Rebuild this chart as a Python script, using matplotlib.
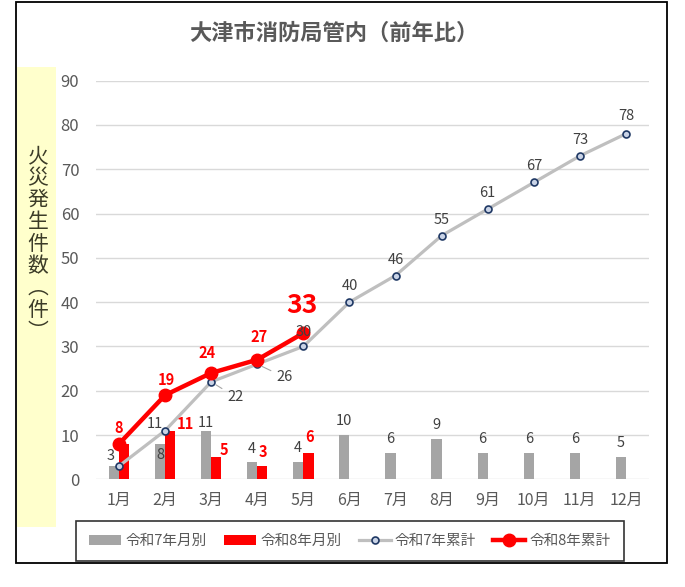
import matplotlib
matplotlib.use("Agg")
from matplotlib import pyplot as plt
from matplotlib.patches import Rectangle
import numpy as np

plt.rcParams['font.family'] = ['Noto Sans CJK JP', 'DejaVu Sans']

# data
months = ['1月', '2月', '3月', '4月', '5月', '6月', '7月', '8月', '9月', '10月', '11月', '12月']
r7_monthly = [3, 8, 11, 4, 4, 10, 6, 9, 6, 6, 6, 5]
r8_monthly = [8, 11, 5, 3, 6]
r7_cumul = [3, 11, 22, 26, 30, 40, 46, 55, 61, 67, 73, 78]
r8_cumul = [8, 19, 24, 27, 33]
yticks = [0, 10, 20, 30, 40, 50, 60, 70, 80, 90]

title = '大津市消防局管内（前年比）'
ylabel_chars = ['火', '災', '発', '生', '件', '数', '︵', '件', '︶']

GRAY_BAR = '#A5A5A5'
RED = '#FF0000'
GRAY_LINE = '#BFBFBF'
TXT = '#595959'
LBL = '#404040'

PX = 0.72  # pixels -> points at 100 dpi

fig = plt.figure(figsize=(6.85, 5.87), dpi=100)

# outer frame and yellow label box
fig.patches.append(Rectangle((16/685, 1-563/587), 651/685, 561/587, transform=fig.transFigure,
                             fill=False, edgecolor='black', linewidth=1.3, zorder=0))
fig.patches.append(Rectangle((17/685, 1-527/587), 39/685, 460/587, transform=fig.transFigure,
                             facecolor='#FFFFCC', edgecolor='none', zorder=0))

fig.text(334/685, 1-33/587, title, ha='center', va='center', fontsize=16,
         fontweight='bold', color=TXT)

# vertical axis title, one character per line
for i, ch in enumerate(ylabel_chars):
    fig.text(38/685, 1-(156 + 22*i)/587, ch, ha='center', va='center',
             fontsize=15, color='#3C3C28')

ax = fig.add_axes([96/685, 1-479.3/587, 553/685, (479.3-80.6)/587])
x = np.arange(len(months))
w = 0.22

b7 = ax.bar(x - w/2, r7_monthly, width=w, color=GRAY_BAR, zorder=2, label='令和7年月別')
x8 = np.arange(len(r8_monthly))
b8 = ax.bar(x8 + w/2, r8_monthly, width=w, color=RED, zorder=2, label='令和8年月別')

l7, = ax.plot(x, r7_cumul, color=GRAY_LINE, lw=2.3, marker='o', ms=5,
              mfc='#C9D3E6', mec='#1F3864', mew=1.2, zorder=3, label='令和7年累計')
l8, = ax.plot(x8, r8_cumul, color=RED, lw=3.2, marker='o', ms=9,
              mfc=RED, mec=RED, zorder=4, label='令和8年累計')

# data labels (offsets in pixels)
r7c_off = [(-8, 10), (-10, 7), (24, -15), (27, -13), (0, 14),
           (0, 16), (0, 16), (0, 16), (0, 16), (0, 16), (0, 16), (0, 18)]
for i, v in enumerate(r7_cumul):
    dx, dy = r7c_off[i]
    arrow = None
    if i in (2, 3):
        arrow = dict(arrowstyle='-', color='#A6A6A6', lw=0.8, shrinkA=2, shrinkB=4)
    ax.annotate(str(v), (x[i], v), xytext=(dx*PX, dy*PX), textcoords='offset points',
                ha='center', va='center', fontsize=10.5, color=LBL, zorder=6,
                arrowprops=arrow)

r7m_off = [None, (0, -11), (0, 8), (0, 13), (0, 14),
           (0, 14), (0, 14), (0, 14), (0, 14), (0, 14), (0, 14), (0, 14)]
for i, v in enumerate(r7_monthly):
    if r7m_off[i] is None:
        continue
    dx, dy = r7m_off[i]
    ax.annotate(str(v), (x[i] - w/2, v), xytext=(dx*PX, dy*PX), textcoords='offset points',
                ha='center', va='center', fontsize=10.5, color=LBL, zorder=6)

r8m_off = [None, (15, 7), (8, 7), (1, 14), (1, 16)]
for i, v in enumerate(r8_monthly):
    if r8m_off[i] is None:
        continue
    dx, dy = r8m_off[i]
    ax.annotate(str(v), (x8[i] + w/2, v), xytext=(dx*PX, dy*PX), textcoords='offset points',
                ha='center', va='center', fontsize=10.5, fontweight='bold', color=RED, zorder=6)

r8c_off = [(0, 16), (1, 15), (-4, 20), (2, 23), (-1, 28)]
for i, v in enumerate(r8_cumul):
    dx, dy = r8c_off[i]
    big = i == len(r8_cumul) - 1
    ax.annotate(str(v), (x8[i], v), xytext=(dx*PX, dy*PX), textcoords='offset points',
                ha='center', va='center', fontsize=19 if big else 10.5,
                fontweight='bold', color=RED, zorder=6)

ax.set_xlim(-0.5, len(months) - 0.5)
ax.set_ylim(0, 90)
ax.set_xticks(x)
ax.set_xticklabels(months)
ax.set_yticks(yticks)
ax.tick_params(axis='both', length=0, colors=TXT)
ax.tick_params(axis='y', labelsize=12, pad=12)
ax.tick_params(axis='x', labelsize=11.5, pad=9)
for s in ax.spines.values():
    s.set_visible(False)
ax.grid(axis='y', color='#D9D9D9', lw=1, zorder=0)
ax.set_axisbelow(True)

leg = fig.legend(handles=[b7, b8, l7, l8],
                 loc='lower left', bbox_to_anchor=(76/685, 1-561/587, 548/685, 39/587),
                 mode='expand', ncol=4, fontsize=10.5, frameon=True, fancybox=False,
                 borderaxespad=0, handlelength=2.2, handletextpad=0.3, borderpad=0.9)
leg.get_frame().set_edgecolor('black')
leg.get_frame().set_linewidth(1.2)
for t in leg.get_texts():
    t.set_color(TXT)

fig.savefig('out.png', dpi=100)
